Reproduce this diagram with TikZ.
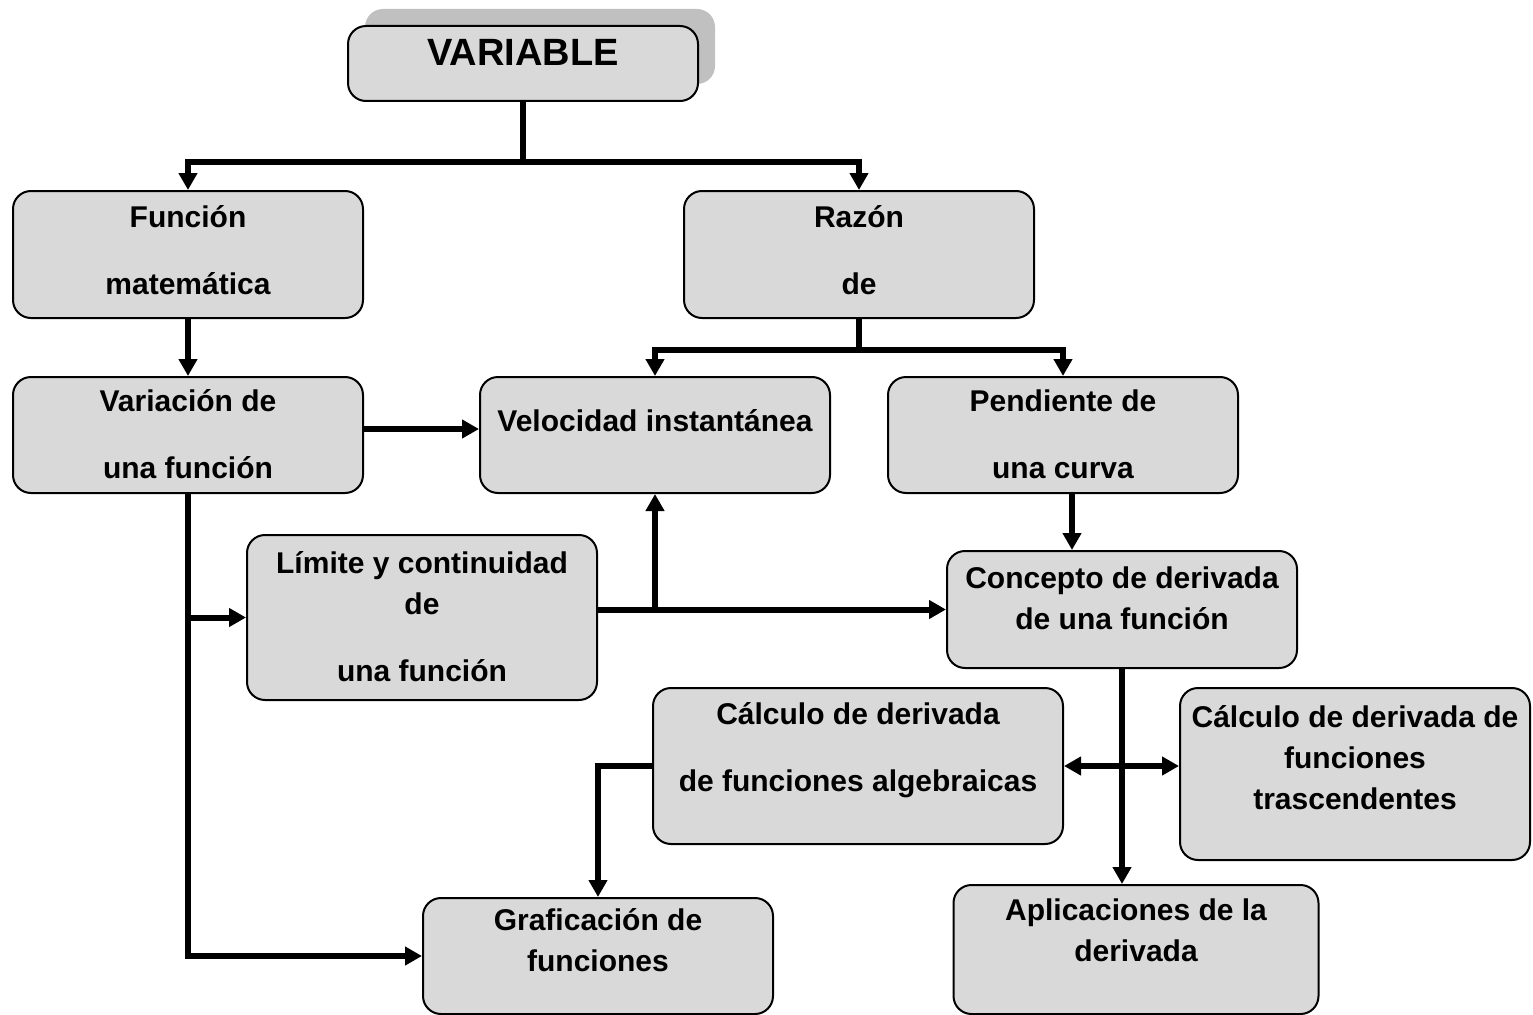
\documentclass[tikz,border=0pt]{standalone}
\usepackage{fontspec}
\setmainfont{Liberation Sans}
\usepackage{tikz}
\usetikzlibrary{arrows.meta,shadows}
\definecolor{cajagris}{HTML}{D9D9D9}
\definecolor{sombragris}{HTML}{C0C0C0}

\begin{document}
\begin{tikzpicture}[x=1pt,y=-1pt,
    caja/.style={draw=black, line width=2pt, fill=cajagris, rounded corners=18pt,
        anchor=north, inner sep=0pt, align=center, minimum width=350pt,
        font=\fontsize{30}{41}\selectfont\bfseries},
    linea/.style={line width=6pt},
    flecha/.style={linea, -{Triangle[length=17pt,width=18pt]}},
    flechas/.style={linea, {Triangle[length=17pt,width=18pt]}-{Triangle[length=17pt,width=18pt]}}]
    \useasboundingbox (0,0) rectangle (1533,1014);
    \node[caja, text height=40pt, text depth=35pt, font=\fontsize{38}{46}\selectfont\bfseries,
        drop shadow={shadow xshift=17pt, shadow yshift=17pt, fill=sombragris, opacity=1}]
        (var) at (523,25) {VARIABLE};
    \node[caja, text height=103pt, text depth=24pt] (fun) at (188,190) {Función\\[26pt]matemática};
    \node[caja, text height=103pt, text depth=24pt] (raz) at (859,190) {Razón\\[26pt]de};
    \node[caja, text height=101pt, text depth=15pt] (varf) at (188,376) {Variación de\\[26pt]una función};
    \node[caja, text height=54pt, text depth=62pt] (vel) at (655,376) {Velocidad instantánea};
    \node[caja, text height=101pt, text depth=15pt] (pen) at (1063,376) {Pendiente de\\[26pt]una curva};
    \node[caja, text height=146pt, text depth=19pt] (lim) at (422,534) {Límite y continuidad\\de\\[26pt]una función};
    \node[caja, text height=78pt, text depth=39pt] (con) at (1122,550) {Concepto de derivada\\de una función};
    \node[caja, text height=103pt, text depth=53pt, minimum width=410pt] (alg) at (858,687) {Cálculo de derivada\\[26pt]de funciones algebraicas};
    \node[caja, text height=121pt, text depth=51pt] (tra) at (1355,687) {Cálculo de derivada de\\funciones\\trascendentes};
    \node[caja, text height=76pt, text depth=53pt, minimum width=365pt] (apl) at (1136,884) {Aplicaciones de la\\derivada};
    \node[caja, text height=73pt, text depth=43pt] (gra) at (598,897) {Graficación de\\funciones};

    \coordinate (j1) at (523,162);
    \coordinate (j2) at (859,350);
    \coordinate (j3) at (vel.south |- con.west);
    \coordinate (v1) at ([yshift=6pt]varf.east);
    \coordinate (p1) at ([xshift=9pt]pen.south);
    \draw[flecha] (var.south) -- (j1) -| (fun.north);
    \draw[flecha] (j1) -| (raz.north);
    \draw[flecha] (fun.south) -- (varf.north);
    \draw[flecha] (raz.south) -- (j2) -| (vel.north);
    \draw[flecha] (j2) -| (pen.north);
    \draw[flecha] (v1) -- (v1 -| vel.west);
    \draw[flecha] (varf.south) |- (gra.west);
    \draw[flecha] (varf.south |- lim.west) -- (lim.west);
    \draw[flecha] (lim.east |- con.west) -- (con.west);
    \draw[flecha] (j3) -- (vel.south);
    \draw[flecha] (p1) -- (p1 |- con.north);
    \draw[flecha] (con.south) -- (con.south |- apl.north);
    \draw[flechas] (alg.east) -- (alg.east -| tra.west);
    \draw[flecha] (alg.west) -| (gra.north);
\end{tikzpicture}
\end{document}
